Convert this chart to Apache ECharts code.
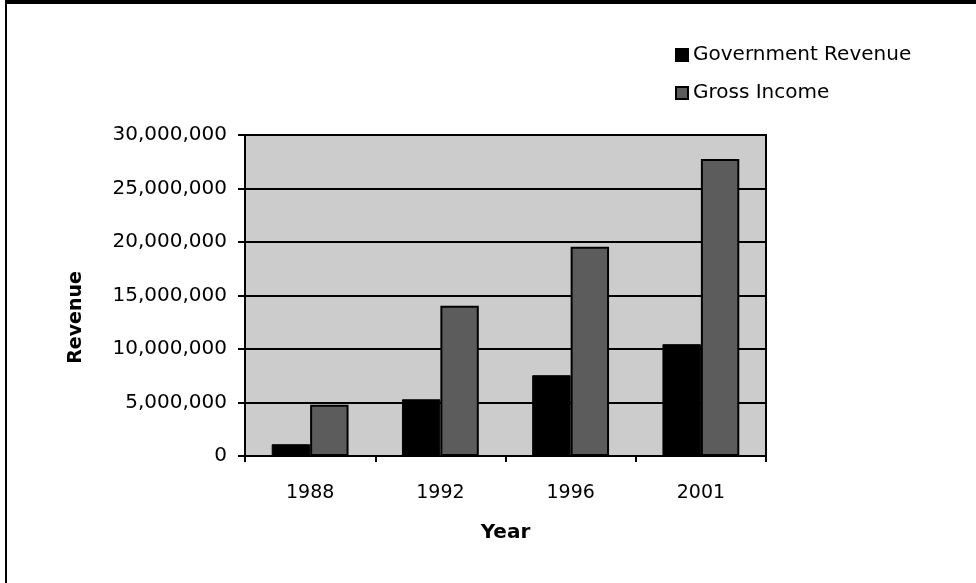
<!DOCTYPE html>
<html>
<head>
<meta charset="utf-8">
<script src="https://cdn.jsdelivr.net/npm/echarts@6/dist/echarts.min.js"></script>
<style>
  html, body { margin: 0; padding: 0; background: #fff; }
  #frame {
    position: absolute; left: 0; top: 0; height: 583px;
    box-sizing: border-box; border-top: 4px solid #000; border-left: 2px solid #000;
    margin-left: 5px; width: 971px;
  }
  #chart { position: absolute; left: 0; top: 0; width: 976px; height: 583px; }
</style>
</head>
<body>
<div id="chart"></div>
<div id="frame"></div>
<script>
// chart data
const years = ['1988', '1992', '1996', '2001'];
const govRevenue = [1100000, 5300000, 7550000, 10450000];
const grossIncome = [4800000, 14050000, 19550000, 27750000];
const seriesNames = ['Government Revenue', 'Gross Income'];

const font = 'DejaVu Sans';

const chart = echarts.init(document.getElementById('chart'));

chart.setOption({
  animation: false,
  backgroundColor: '#fff',
  legend: {
    orient: 'vertical',
    left: 670,
    top: 40,
    itemWidth: 12,
    itemHeight: 12,
    itemGap: 18,
    icon: 'rect',
    textStyle: { fontFamily: font, fontSize: 20, color: '#000' },
    data: seriesNames
  },
  grid: {
    left: 245,
    right: 210,
    top: 135,
    bottom: 127,
    show: true,
    backgroundColor: '#cccccc',
    borderColor: '#000',
    borderWidth: 2
  },
  xAxis: {
    type: 'category',
    data: years,
    name: 'Year',
    nameLocation: 'middle',
    nameGap: 67,
    nameTextStyle: { fontFamily: font, fontSize: 20, fontWeight: 'bold', color: '#000' },
    axisLine: { lineStyle: { color: '#000', width: 2 } },
    axisTick: { show: true, length: 6, lineStyle: { color: '#000', width: 2 } },
    axisLabel: { fontFamily: font, fontSize: 19, color: '#000', margin: 28 }
  },
  yAxis: {
    type: 'value',
    min: 0,
    max: 30000000,
    interval: 5000000,
    name: 'Revenue',
    nameLocation: 'middle',
    nameGap: 159,
    nameRotate: 90,
    nameTextStyle: { fontFamily: font, fontSize: 19, fontWeight: 'bold', color: '#000', padding: [0, 0, 0, -44] },
    axisLine: { show: true, lineStyle: { color: '#000', width: 2 } },
    axisTick: { show: true, length: 7, lineStyle: { color: '#000', width: 2 } },
    splitLine: { lineStyle: { color: '#000', width: 2 } },
    axisLabel: {
      fontFamily: font, fontSize: 20, color: '#000', margin: 18,
      formatter: v => v.toLocaleString('en-US')
    }
  },
  series: [
    {
      name: seriesNames[0],
      type: 'bar',
      data: govRevenue,
      barGap: '0%',
      barCategoryGap: '41%',
      itemStyle: { color: '#000', borderColor: '#000', borderWidth: 1 }
    },
    {
      name: seriesNames[1],
      type: 'bar',
      data: grossIncome,
      itemStyle: { color: '#5c5c5c', borderColor: '#000', borderWidth: 2 }
    }
  ]
});
</script>
</body>
</html>
